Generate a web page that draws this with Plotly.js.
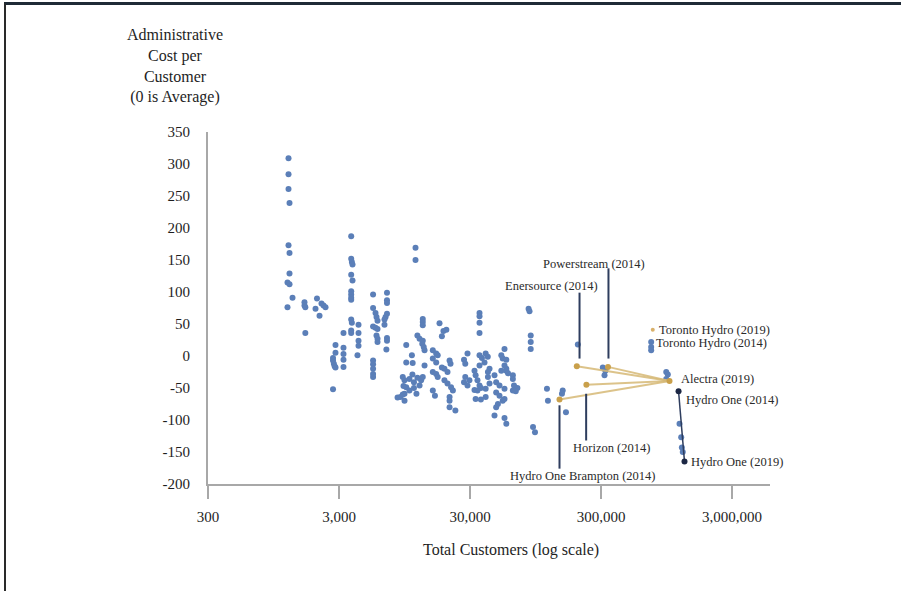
<!DOCTYPE html>
<html><head><meta charset="utf-8">
<script src="https://cdn.plot.ly/plotly-3.0.1.min.js"></script>
<style>
html,body{margin:0;padding:0;background:#fff;}
#wrap{position:relative;width:901px;height:591px;overflow:hidden;}
#chart{position:absolute;left:0;top:0;width:901px;height:591px;}
#frame{position:absolute;left:4px;top:2px;width:897px;height:589px;border-top:3px solid #1f2a36;border-left:2px solid #2a2a2a;box-sizing:border-box;pointer-events:none;}
</style></head><body>
<div id="wrap"><div id="chart"></div><div id="frame"></div></div>
<script>
// ---- Data ----
const customers = [1235,1235,1235,1257,1235,1257,1257,1213,1257,1325,1213,
1635,1635,1660,1660,2037,1985,2205,2286,2367,2130,
2820,2820,2700,2700,2740,2780,2820,2700,
3246,3246,3246,3246,3246,
3717,3717,3760,3804,3717,3804,3717,3717,3717,3717,3717,3760,3717,3717,
4227,4227,4227,4227,4150,
5460,5460,5700,5800,5904,5460,5700,5904,5800,5904,5904,5460,5460,5460,5460,5460,
6972,6972,6972,6972,6800,6672,6672,6972,6972,6900,
8394,9780,9780,9318,9486,8841,11511,11511,
13080,13080,13080,17550,19800,18800,18300,35460,35460,35460,35460,
11900,12360,13080,12960,13300,13490,10800,10950,13490,
15600,16560,17000,15600,16560,20940,21300,28700,27000,27600,
35460,37000,39500,41000,38700,35460,55000,53300,55000,56800,
9200,9490,10350,10900,11200,11900,12700,13080,9780,10350,11200,12360,11700,9200,9490,
15600,16560,17000,18300,19140,20200,15600,16200,19140,20200,21500,22200,20940,20940,20940,23200,
27600,29700,27000,28700,32460,33100,34200,35460,36300,34200,32460,33100,36300,39500,
42270,41100,46140,47500,50370,41100,42270,39500,47500,50370,53300,49000,47500,55000,46140,55000,56800,
84000,85400,87200,87200,87200,52000,56800,56800,52000,58500,63700,63700,65000,69000,63700,67000,55000,
90800,94000,116000,118000,153000,151000,162000,199600,309600,324000,319000,
944000,971000,944000,724500,724500,724500,1192000,1228000,1242000,1262000];
const adminCost = [309,284,261,239,173,161,129,115,112,91,76,
84,79,76,36,90,74,82,79,76,63,
17,5,-3,-7,-12,-16,-18,-52,
36,13,3,-6,-17,
187,152,147,143,127,118,101,96,91,88,57,52,40,36,
49,36,24,16,1,
96,75,67,61,55,46,44,42,32,27,22,-7,-13,-20,-28,-33,
99,87,83,66,61,57,49,28,24,10,
-65,17,-10,-47,-59,-64,169,150,
58,53,48,51,41,39,31,67,62,52,36,
32,27,24,19,14,9,1,-11,-15,
9,4,1,-4,-10,-7,-12,4,-6,-12,
1,-3,4,-1,-10,-15,11,-4,-15,-20,
-33,-38,-36,-29,-41,-34,-38,-33,-49,-54,-50,-46,-59,-60,-70,
-25,-28,-33,-18,-20,-25,-54,-62,-38,-43,-49,-54,-64,-70,-80,-85,
-33,-38,-41,-46,-23,-30,-38,-46,-50,-54,-53,-67,-68,-64,
-20,-25,-30,-41,-46,-33,-43,-51,-57,-62,-70,-75,-80,-51,-93,-97,-106,
74,70,32,22,11,1,-6,-23,-23,-27,-30,-36,-46,-50,-54,-55,-67,
-111,-119,-51,-70,-54,-59,-88,18,-18,-23,-30,
-25,-29,-36,22,14,9,-106,-127,-143,-150];

// Utilities that merged into Alectra (2014) and Alectra (2019)
const mergedNames = ['Enersource (2014)','Powerstream (2014)','Horizon (2014)','Hydro One Brampton (2014)'];
const mergedCustomers = [196000,339000,232000,144600];
const mergedCost = [-16,-17,-45,-68];
const alectraCustomers = [1000000];
const alectraCost = [-39];
const torontoCustomers = [745000];
const torontoCost = [41];
// Hydro One path 2014 -> 2019
const hydroOneCustomers = [1172000,1301000];
const hydroOneCost = [-55,-165];
// Callout leader lines for the merged utilities
const calloutCustomers = [205650,342000,231000,144600];
const calloutTop = [99,137,-59,-77];
const calloutBottom = [-4,-4,-132,-176];

const tickVals = [300,3000,30000,300000,3000000];
const tickText = ['300','3,000','30,000','300,000','3,000,000'];
const yTicks = [-200,-150,-100,-50,0,50,100,150,200,250,300,350];
const yTickText = yTicks.map(v => String(v));

// ---- Styles ----
const FONT = 'Liberation Serif, Times New Roman, serif';
const BLUE = '#5b7fb8';
const GOLD = '#c9a04b';
const GOLDLINE = 'rgba(214,184,118,0.85)';
const NAVY = '#2e3d5e';
const TXT = '#1e1e1e';

const traces = [];
traces.push({x: customers, y: adminCost, type:'scatter', mode:'markers',
  marker:{color:BLUE, size:6}, hoverinfo:'skip', showlegend:false});
mergedCustomers.forEach((c,i)=>{
  traces.push({x:[c, alectraCustomers[0]], y:[mergedCost[i], alectraCost[0]], type:'scatter', mode:'lines',
    line:{color:GOLDLINE, width:2}, hoverinfo:'skip', showlegend:false});
});
calloutCustomers.forEach((c,i)=>{
  traces.push({x:[c,c], y:[calloutTop[i], calloutBottom[i]], type:'scatter', mode:'lines',
    line:{color:NAVY, width:2}, hoverinfo:'skip', showlegend:false});
});
traces.push({x:hydroOneCustomers, y:hydroOneCost, type:'scatter', mode:'lines+markers',
  line:{color:NAVY, width:1.5}, marker:{color:'#1c2744', size:6}, hoverinfo:'skip', showlegend:false});
traces.push({x:mergedCustomers.concat(alectraCustomers), y:mergedCost.concat(alectraCost), type:'scatter', mode:'markers',
  marker:{color:GOLD, size:6}, hoverinfo:'skip', showlegend:false});
traces.push({x:torontoCustomers, y:torontoCost, type:'scatter', mode:'markers',
  marker:{color:'#d9b06a', size:4}, hoverinfo:'skip', showlegend:false});

const L = Math.log10;
function lab(text, xlog, y, anchor){
  return {text:text, x:xlog, y:y, xref:'x', yref:'y', showarrow:false, xanchor:anchor||'center', yanchor:'middle',
    font:{family:FONT, size:12.5, color:'#2a2a2a'}};
}
const annotations = [
  lab('Powerstream (2014)', 5.427, 144.5),
  lab('Enersource (2014)', 5.099, 110),
  lab('Horizon (2014)', 5.557, -144.5),
  lab('Hydro One Brampton (2014)', 5.336, -187),
  lab('Toronto Hydro (2019)', 5.901, 41.4, 'left'),
  lab('Toronto Hydro (2014)', 5.878, 21, 'left'),
  lab('Alectra (2019)', 6.069, -36.7, 'left'),
  lab('Hydro One (2014)', 6.107, -68, 'left'),
  lab('Hydro One (2019)', 6.145, -165, 'left'),
  {text:'Administrative<br>Cost per<br>Customer<br>(0 is Average)', xref:'paper', yref:'paper', x:-0.0587, y:1.188,
   xanchor:'center', yanchor:'middle', showarrow:false, align:'center', font:{family:FONT, size:16, color:TXT}},
  {text:'Total Customers (log scale)', xref:'paper', yref:'paper', x:0.539, y:-0.1875,
   xanchor:'center', yanchor:'middle', showarrow:false, font:{family:FONT, size:16, color:TXT}}
];

const layout = {
  width:901, height:591,
  margin:{l:208, r:131, t:132, b:107, pad:0},
  paper_bgcolor:'#fff', plot_bgcolor:'#fff',
  showlegend:false,
  xaxis:{type:'log', range:[L(300), 6.767], tickvals:tickVals, ticktext:tickText,
    ticks:'outside', ticklen:13, tickwidth:2, tickcolor:'#a8a8a8',
    showline:true, linecolor:'#a8a8a8', linewidth:2, showgrid:false, zeroline:false,
    ticklabelstandoff:5,
    tickfont:{family:FONT, size:15, color:TXT}},
  yaxis:{range:[-200,350], tickvals:yTicks, ticktext:yTickText, ticks:'', showline:true, linecolor:'#a8a8a8', linewidth:2,
    showgrid:false, zeroline:false, ticklabelstandoff:13,
    tickfont:{family:FONT, size:15, color:TXT}},
  annotations:annotations
};
Plotly.newPlot('chart', traces, layout, {displayModeBar:false, staticPlot:true});
</script></body></html>
